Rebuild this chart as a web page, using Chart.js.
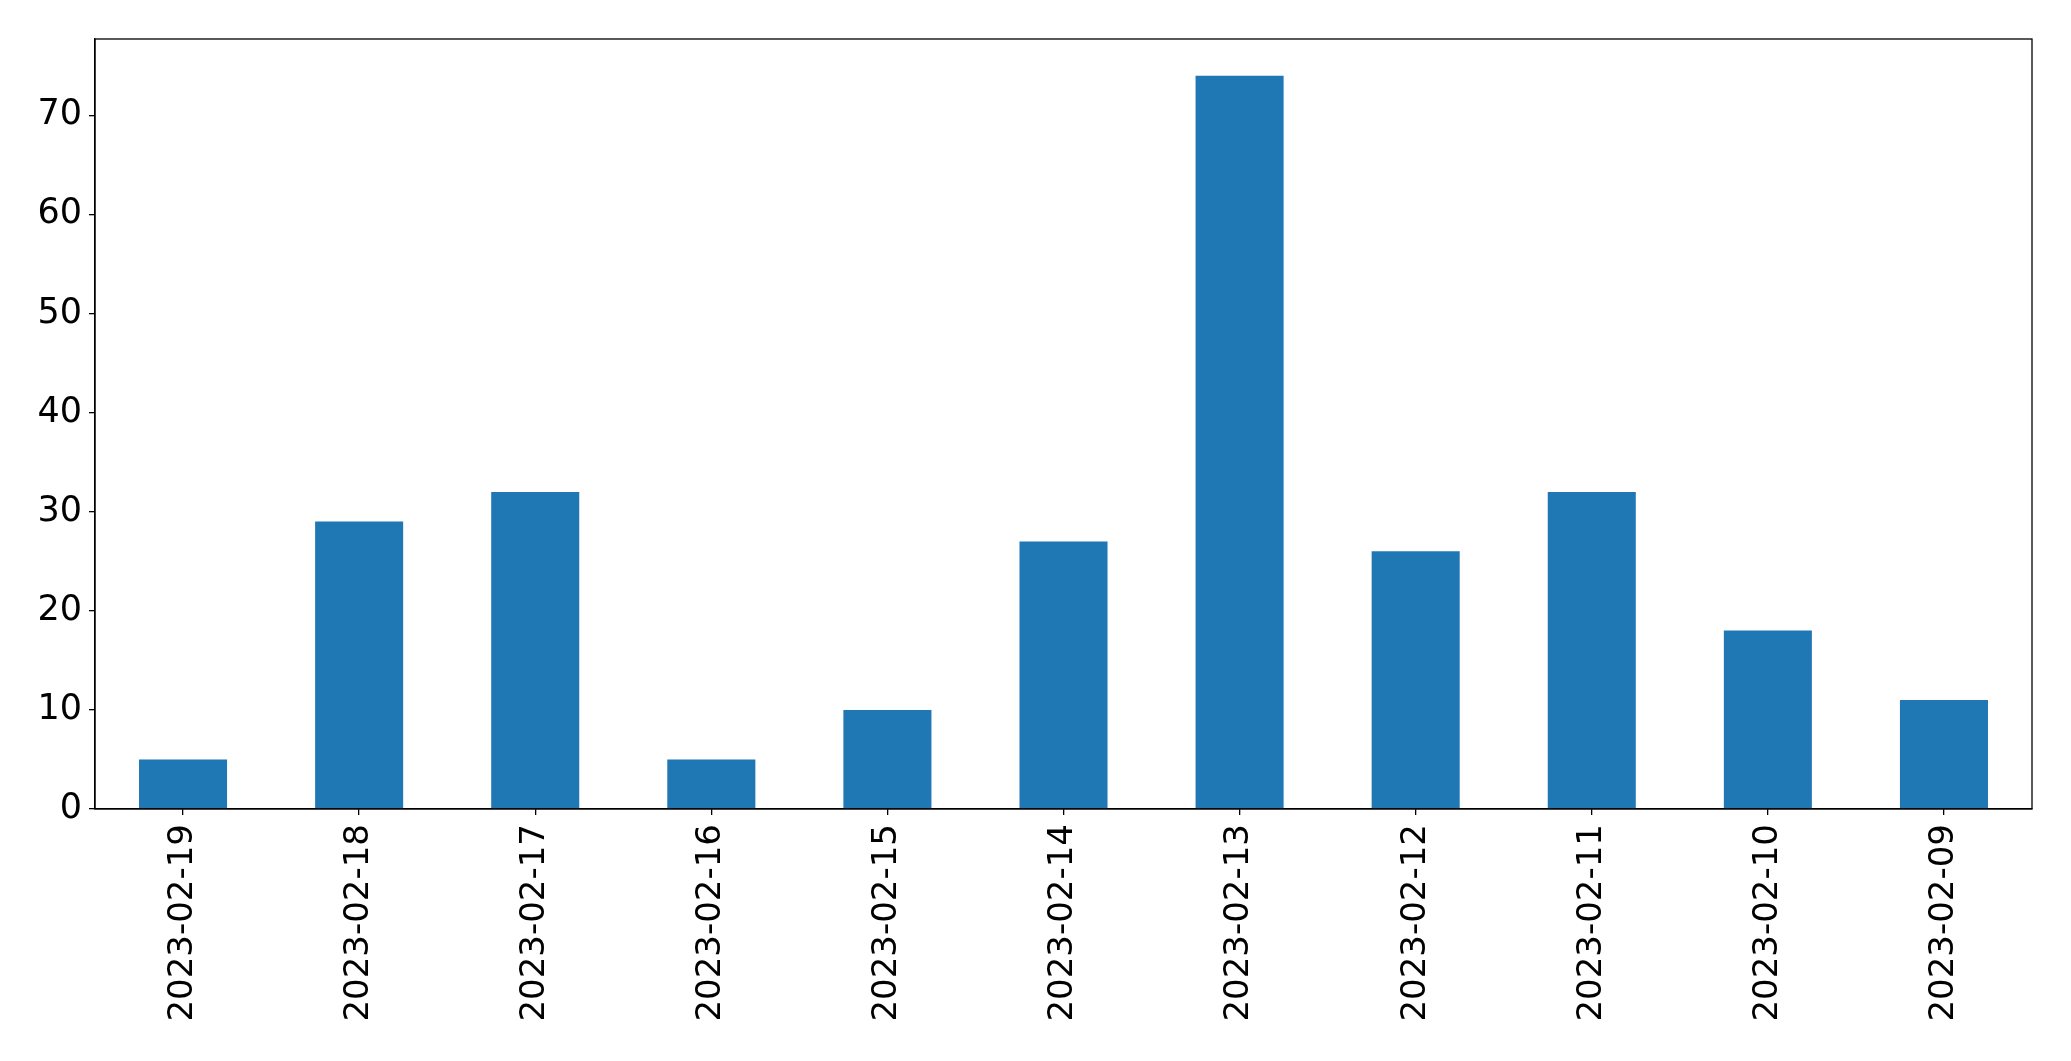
<!DOCTYPE html>
<html>
<head>
<meta charset="utf-8">
<script src="https://cdn.jsdelivr.net/npm/chart.js@4"></script>
<style>
html,body{margin:0;padding:0;background:#fff;}
#wrap{width:2071px;height:1061px;position:relative;}
</style>
</head>
<body>
<div id="wrap"><canvas id="c" width="2071" height="1061"></canvas></div>
<script>
const categories = ["2023-02-19","2023-02-18","2023-02-17","2023-02-16","2023-02-15","2023-02-14","2023-02-13","2023-02-12","2023-02-11","2023-02-10","2023-02-09"];
const counts = [5, 29, 32, 5, 10, 27, 74, 26, 32, 18, 11];
const yTicks = [0, 10, 20, 30, 40, 50, 60, 70];

const frame = {
  id: 'frame',
  afterDatasetsDraw(chart) {
    const a = chart.chartArea, ctx = chart.ctx;
    ctx.save();
    ctx.strokeStyle = '#000';
    ctx.lineWidth = 1.3;
    ctx.strokeRect(a.left, a.top, a.right - a.left, a.bottom - a.top);
    ctx.restore();
  }
};

new Chart(document.getElementById('c'), {
  type: 'bar',
  data: {
    labels: categories,
    datasets: [{ data: counts, backgroundColor: '#1f77b4', barPercentage: 0.5, categoryPercentage: 1.0 }]
  },
  options: {
    responsive: false,
    animation: false,
    layout: { padding: { top: 39, right: 39, left: 0, bottom: 0 } },
    plugins: { legend: { display: false }, tooltip: { enabled: false } },
    scales: {
      x: {
        offset: true,
        grid: { offset: false, drawOnChartArea: false, drawTicks: true, tickLength: 6, color: '#000', lineWidth: 1.3 },
        border: { display: true, color: '#000', width: 1.3 },
        ticks: { color: '#000', font: { family: 'DejaVu Sans', size: 34 }, minRotation: 90, maxRotation: 90, padding: 9, autoSkip: false },
        afterFit(s) { s.height = 252; }
      },
      y: {
        min: 0, max: 77.7,
        grid: { drawOnChartArea: false, drawTicks: true, tickLength: 6, color: '#000', lineWidth: 1.3 },
        border: { display: true, color: '#000', width: 1.3 },
        ticks: { color: '#000', font: { family: 'DejaVu Sans', size: 35 }, stepSize: 10, includeBounds: false, padding: 7,
          callback: (v) => yTicks.includes(v) ? String(v) : '' },
        afterFit(s) { s.width = 95; }
      }
    }
  },
  plugins: [frame]
});
</script>
</body>
</html>
